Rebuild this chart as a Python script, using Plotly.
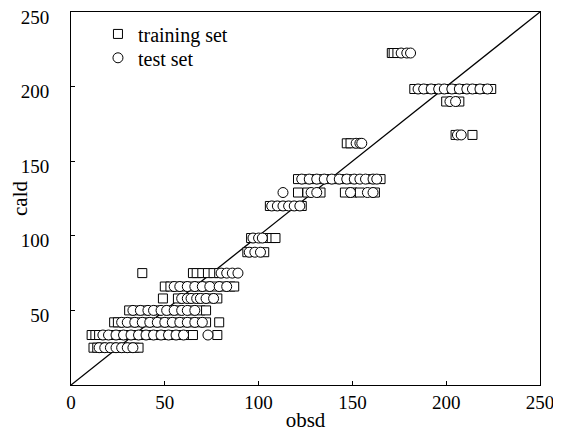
import plotly.graph_objects as go

# cald levels and the obsd values observed at each level
cald_levels = [25, 33.5, 42, 50, 58, 66, 75, 89, 98.5, 120, 129, 138, 162, 167.6, 190, 198.4, 222.5]

train_obsd = [
    [12, 14, 16, 19, 22, 25, 28, 31, 34, 36],
    [11, 13, 15, 18, 22, 26, 30, 34, 38, 42, 46, 50, 54, 58, 62, 65, 78],
    [23, 25, 28, 32, 36, 40, 44, 48, 52, 56, 60, 64, 68, 72, 79],
    [31, 35, 40, 46, 52, 58, 64, 69, 72],
    [49, 57, 60, 65, 70, 74, 78],
    [50, 53, 56, 60, 64, 68, 72, 77, 81, 85, 87],
    [38, 65, 67, 70, 73, 76, 79],
    [94, 103],
    [96, 104, 107, 109],
    [106, 109, 113, 117, 121, 123],
    [121, 126, 133, 146, 150, 154, 162],
    [121, 125, 129, 133, 137, 141, 144, 150, 160, 165],
    [147, 149],
    [205, 214],
    [200, 207],
    [183, 186, 190, 193, 197, 200, 205, 210, 215, 220, 224],
    [171, 172, 174],
]

test_obsd = [
    [15, 18, 21, 24, 27, 30, 33],
    [17, 20, 24, 28, 32, 36, 40, 44, 48, 52, 56, 60, 73],
    [27, 30, 34, 38, 42, 46, 50, 54, 58, 62, 66, 70],
    [33, 37, 41, 44, 48, 51, 55, 59, 62, 66],
    [59, 62, 64, 67, 69, 72, 76],
    [55, 58, 62, 66, 70, 74, 79, 83],
    [80, 83, 86, 89],
    [95, 98, 101],
    [97, 100, 102],
    [107, 110, 113, 116, 119, 122],
    [113, 128, 131, 149, 158, 161],
    [123, 127, 131, 135, 139, 143, 147, 151, 154, 157, 161, 163],
    [152, 154, 155],
    [206, 208],
    [202, 205],
    [185, 188, 192, 196, 199, 203, 207, 211, 214, 218, 222],
    [176, 179, 181],
]

diag = [0, 250]
tick_vals = [0, 50, 100, 150, 200, 250]

tx, ty, sx, sy = [], [], [], []
for lvl, tr, te in zip(cald_levels, train_obsd, test_obsd):
    tx += tr
    ty += [lvl] * len(tr)
    sx += te
    sy += [lvl] * len(te)

font = "Liberation Serif"
fig = go.Figure()
fig.add_trace(go.Scatter(x=diag, y=diag, mode="lines", line=dict(color="black", width=1.3),
                         showlegend=False, hoverinfo="skip"))
fig.add_trace(go.Scatter(x=tx, y=ty, mode="markers", name="training set", legend="legend",
                         marker=dict(symbol="square", size=9, color="white",
                                     line=dict(color="black", width=1))))
fig.add_trace(go.Scatter(x=sx, y=sy, mode="markers", name="test set", legend="legend2",
                         marker=dict(symbol="circle", size=10, color="white",
                                     line=dict(color="black", width=1))))

axis_common = dict(range=[0, 250], showgrid=False, zeroline=False, showline=True,
                   linecolor="black", linewidth=1, mirror=True, ticks="inside",
                   ticklen=4, tickcolor="black", automargin=False,
                   ticklabeloverflow="allow",
                   tickfont=dict(family=font, size=19, color="black"))
fig.update_xaxes(**axis_common, tickvals=tick_vals, ticklabelstandoff=0,
                 title=dict(text="obsd", font=dict(family=font, size=21, color="black"), standoff=0))
fig.update_yaxes(**axis_common, tickvals=tick_vals[1:], ticklabelstandoff=17,
                 ticklabelshift=5,
                 title=dict(text="cald", font=dict(family=font, size=21, color="black"), standoff=8))

leg_common = dict(xanchor="left", yanchor="top", x=0.0575,
                  font=dict(family=font, size=20, color="black"),
                  bgcolor="rgba(0,0,0,0)")
fig.update_layout(
    width=553, height=426,
    margin=dict(l=63, r=21, t=4, b=49),
    plot_bgcolor="white", paper_bgcolor="white",
    legend=dict(**leg_common, y=0.9935),
    legend2=dict(**leg_common, y=0.9295),
)
fig.write_html("out.html")
